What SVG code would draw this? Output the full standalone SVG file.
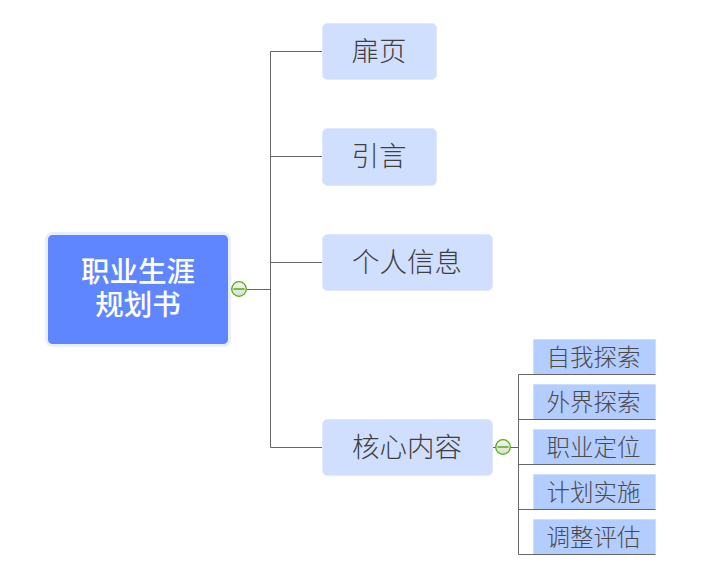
<svg xmlns="http://www.w3.org/2000/svg" width="702" height="583" viewBox="0 0 702 583">
<defs>
<linearGradient id="btn" x1="0" y1="0" x2="0" y2="1"><stop offset="0" stop-color="#f4f8f0"/><stop offset="1" stop-color="#d3dfd0"/></linearGradient>
</defs>
<style>
text{font-family:"Noto Sans CJK SC","Liberation Serif",serif;text-anchor:middle}
.conn{fill:none;stroke:#666;stroke-width:1}
.main{fill:#d1dfff;stroke:#dfe8ff;stroke-width:1}
.mt{font-size:27.5px;fill:#3f3f3f;font-weight:300}
.sub{fill:#b4cdff;stroke:#c4d8ff;stroke-width:.6}
.st{font-size:23.500px;fill:#4a4a4a;font-weight:300}
.btn{fill:url(#btn);stroke:#56aa10;stroke-width:1.300}
.dash{stroke:#3f9f00;stroke-width:1.300}
</style>
<rect width="702" height="583" fill="#fff"/>
<g id="connectors">
<path class="conn" d="M247 289.500H270.500M270.500 51.500V447.500M270.500 51.500H322M270.500 156.500H322M270.500 262.500H322M270.500 447.500H322"/>
<path class="conn" d="M493 447.500H518.500M518.500 374.500V554.500"/>
</g>
<g id="root">
<rect x="46.500" y="233.500" width="183" height="112" rx="6" fill="#5f85ff" stroke="#e9eeff" stroke-width="3"/>
<text font-size="28.500" font-weight="500" fill="#fff"><tspan x="138" y="282">职业生涯</tspan><tspan x="138" y="315">规划书</tspan></text>
</g>
<g id="toggle-root"><circle class="btn" cx="239" cy="289" r="7.300"/><path class="dash" d="M233.500 289H244.500"/></g>
<g id="n1"><rect class="main" x="322.500" y="23.500" width="114" height="56" rx="5"/><text class="mt" x="379" y="60.500">扉页</text></g>
<g id="n2"><rect class="main" x="322.500" y="128.500" width="114" height="57" rx="5"/><text class="mt" x="379" y="166">引言</text></g>
<g id="n3"><rect class="main" x="322.500" y="234.500" width="170" height="56" rx="5"/><text class="mt" x="407" y="271.500">个人信息</text></g>
<g id="n4"><rect class="main" x="322.500" y="419.500" width="170" height="56" rx="5"/><text class="mt" x="407" y="456.500">核心内容</text></g>
<g id="toggle-n4"><circle class="btn" cx="503" cy="447" r="7.300"/><path class="dash" d="M497.500 447H508.500"/></g>
<g id="s1"><rect class="sub" x="533.500" y="339.500" width="122" height="35"/><path class="conn" d="M518.500 374.500H655.500"/><text class="st" x="593.500" y="365.500">自我探索</text></g>
<g id="s2"><rect class="sub" x="533.500" y="384.500" width="122" height="35"/><path class="conn" d="M518.500 419.500H655.500"/><text class="st" x="593.500" y="410.500">外界探索</text></g>
<g id="s3"><rect class="sub" x="533.500" y="429.500" width="122" height="35"/><path class="conn" d="M518.500 464.500H655.500"/><text class="st" x="593.500" y="455.500">职业定位</text></g>
<g id="s4"><rect class="sub" x="533.500" y="474.500" width="122" height="35"/><path class="conn" d="M518.500 509.500H655.500"/><text class="st" x="593.500" y="500.500">计划实施</text></g>
<g id="s5"><rect class="sub" x="533.500" y="519.500" width="122" height="35"/><path class="conn" d="M518.500 554.500H655.500"/><text class="st" x="593.500" y="545.500">调整评估</text></g>
</svg>
